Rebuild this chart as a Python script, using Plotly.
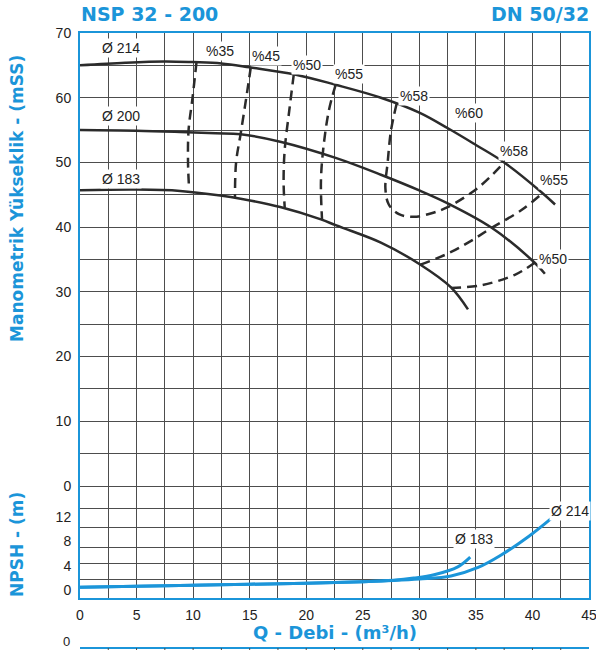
import plotly.graph_objects as go

# ---------------- data ----------------
# Head curves (Q m3/h, H mSS)
q214 = [0, 4, 7.5, 10, 12.5, 15, 19, 22.6, 26.6, 30, 32.6, 35, 37.5, 40.8, 42]
h214 = [65.0, 65.4, 65.6, 65.5, 65.3, 64.7, 63.6, 62.0, 60.0, 57.7, 55.2, 52.7, 50.0, 45.4, 43.5]
q200 = [0, 5, 8.85, 12, 14.2, 17.7, 22.6, 26.6, 30.1, 32.6, 36.4, 40.2, 41.1]
h200 = [55.0, 54.9, 54.7, 54.5, 54.35, 53.2, 50.7, 48.1, 45.6, 43.6, 39.9, 34.5, 32.8]
q183 = [0, 5, 8.85, 12.4, 14.2, 17.7, 21.3, 22.6, 24, 26.6, 30.1, 32.8, 34.3]
h183 = [45.7, 45.8, 45.6, 44.9, 44.4, 43.1, 41.2, 40.3, 39.4, 37.6, 34.2, 30.7, 27.3]

# Iso-efficiency curves
eff35_q = [10.3, 9.95, 9.6, 9.55, 9.65]
eff35_h = [65.5, 60, 55, 50, 45.8]
eff45_q = [15.1, 14.7, 14.2, 13.8, 13.7]
eff45_h = [64.7, 60, 54.4, 50, 44.6]
eff50a_q = [18.9, 18.5, 18.1, 18.0, 18.1]
eff50a_h = [63.6, 58, 52, 47, 43.0]
eff55a_q = [22.6, 22.0, 21.5, 21.3, 21.4]
eff55a_h = [62.0, 58, 52, 47, 41.1]
eff58_q = [28.0, 27.5, 27.2, 27.0, 27.3, 28.2, 29.5, 31, 32.5, 35.2, 37.5]
eff58_h = [59.1, 55, 50, 46, 43.5, 42, 41.6, 42.1, 43.1, 46.1, 50.0]
eff55b_q = [30.1, 32.5, 34.5, 36.4, 39, 40.8]
eff55b_h = [34.2, 35.9, 37.8, 39.9, 42.6, 45.1]
eff50b_q = [32.8, 35.4, 38.4, 40.2]
eff50b_h = [30.6, 31.0, 32.6, 34.5]

# Labels on the head chart
lbl_q = [3.6, 3.6, 3.6, 12.4, 16.4, 20.1, 23.8, 29.5, 34.4, 38.4, 41.9, 41.8]
lbl_h = [67.7, 57.1, 47.4, 67.2, 66.5, 65.1, 63.7, 60.2, 57.7, 51.8, 47.3, 35.1]
lbl_text = ["Ø 214", "Ø 200", "Ø 183", "%35", "%45", "%50", "%55", "%58", "%60", "%58", "%55", "%50"]

# NPSH curves
npsh_q214 = [0, 5, 10, 15, 20, 25, 27.7, 30, 32.8, 35.2, 37.2, 39.6, 41.7]
npsh_h214 = [0.45, 0.6, 0.8, 0.95, 1.1, 1.35, 1.55, 1.8, 2.3, 3.7, 5.7, 8.7, 11.8]
npsh_q183 = [0, 5, 10, 15, 20, 25, 27.7, 29.5, 31.3, 33.4, 34.5]
npsh_h183 = [0.45, 0.6, 0.8, 0.95, 1.1, 1.35, 1.6, 1.95, 2.5, 3.8, 5.4]
npsh_lbl_q = [34.8, 43.3]
npsh_lbl_h = [8.4, 13.0]
npsh_lbl_text = ["Ø 183", "Ø 214"]

x_ticks = [0, 5, 10, 15, 20, 25, 30, 35, 40, 45]
head_ticks = [0, 10, 20, 30, 40, 50, 60, 70]
npsh_ticks = [0, 4, 8, 12]
next_panel_tick = "0"

# ---------------- style ----------------
BLUE = "#1b95d9"
GRID = "#4d4d4d"
CURVE = "#2b2b2b"
TXT = "#222222"
FONT = "Liberation Sans, Arial, sans-serif"
BOLD = "DejaVu Sans, Verdana, sans-serif"
W, H = 596, 650
ML, MR, MT, MB = 80, 7, 33, 0
PW, PH = W - ML - MR, H - MT - MB


def px(xp):
    return (xp - ML) / PW


def py(yp):
    return (H - MB - yp) / PH


fig = go.Figure()

for q, h in [(q214, h214), (q200, h200), (q183, h183)]:
    fig.add_trace(go.Scatter(x=q, y=h, mode="lines", line=dict(color=CURVE, width=2.5, shape="spline"),
                             xaxis="x", yaxis="y", hoverinfo="skip", showlegend=False))

for q, h in [(eff35_q, eff35_h), (eff45_q, eff45_h), (eff50a_q, eff50a_h), (eff55a_q, eff55a_h),
             (eff58_q, eff58_h), (eff55b_q, eff55b_h), (eff50b_q, eff50b_h)]:
    fig.add_trace(go.Scatter(x=q, y=h, mode="lines",
                             line=dict(color=CURVE, width=2.5, dash="10px,6px", shape="spline"),
                             xaxis="x", yaxis="y", hoverinfo="skip", showlegend=False))

for q, h in [(npsh_q214, npsh_h214), (npsh_q183, npsh_h183)]:
    fig.add_trace(go.Scatter(x=q, y=h, mode="lines", line=dict(color=BLUE, width=3, shape="spline"),
                             xaxis="x2", yaxis="y2", hoverinfo="skip", showlegend=False))

annotations = []
for q, h, t in zip(lbl_q, lbl_h, lbl_text):
    annotations.append(dict(x=q, y=h, xref="x", yref="y", text=t, showarrow=False,
                            font=dict(family=FONT, size=14, color=TXT), bgcolor="white", borderpad=1))
for q, h, t in zip(npsh_lbl_q, npsh_lbl_h, npsh_lbl_text):
    annotations.append(dict(x=q, y=h, xref="x2", yref="y2", text=t, showarrow=False,
                            font=dict(family=FONT, size=14, color=TXT), bgcolor="white", borderpad=1))

annotations += [
    dict(x=px(79), y=py(14), xref="paper", yref="paper", text="<b>NSP 32 - 200</b>", showarrow=False,
         xanchor="left", yanchor="middle", font=dict(family=BOLD, size=19, color=BLUE)),
    dict(x=px(591), y=py(14), xref="paper", yref="paper", text="<b>DN 50/32</b>", showarrow=False,
         xanchor="right", yanchor="middle", font=dict(family=BOLD, size=19, color=BLUE)),
    dict(x=px(17), y=py(199), xref="paper", yref="paper", text="<b>Manometrik Yükseklik - (mSS)</b>",
         showarrow=False, textangle=-90, xanchor="center", yanchor="middle",
         font=dict(family=BOLD, size=17, color=BLUE)),
    dict(x=px(17), y=py(545), xref="paper", yref="paper", text="<b>NPSH - (m)</b>",
         showarrow=False, textangle=-90, xanchor="center", yanchor="middle",
         font=dict(family=BOLD, size=17, color=BLUE)),
    dict(x=px(335), y=py(632), xref="paper", yref="paper", text="<b>Q - Debi - (m³/h)</b>",
         showarrow=False, xanchor="center", yanchor="middle",
         font=dict(family=BOLD, size=18, color=BLUE)),
    dict(x=px(72), y=py(641), xref="paper", yref="paper", text=next_panel_tick,
         showarrow=False, xanchor="right", yanchor="middle", font=dict(family=FONT, size=13, color=TXT)),
]

shapes = [
    dict(type="line", xref="paper", yref="paper", x0=0, x1=1, y0=py(648), y1=py(648),
         line=dict(color=BLUE, width=2)),
]
for k in range(1, 18):
    shapes.append(dict(type="line", xref="x2", yref="paper", x0=k * 2.5, x1=k * 2.5,
                       y0=0, y1=py(648), line=dict(color=GRID, width=1)))

tickfont = dict(family=FONT, size=14, color=TXT)

fig.update_layout(
    template="none",
    width=W, height=H,
    margin=dict(l=ML, r=MR, t=MT, b=MB, pad=0, autoexpand=False),
    paper_bgcolor="white", plot_bgcolor="white",
    showlegend=False,
    annotations=annotations,
    shapes=shapes,
    xaxis=dict(domain=[0, 1], range=[0, 45], anchor="y", side="top", showticklabels=False,
               tick0=0, dtick=2.5, showgrid=True, gridcolor=GRID, gridwidth=1, zeroline=False,
               showline=True, linecolor=BLUE, linewidth=2, ticks="", automargin=False),
    yaxis=dict(domain=[py(486), 1], range=[0, 70], anchor="x", tickvals=head_ticks,
               showgrid=True, gridcolor=GRID, gridwidth=1,
               minor=dict(dtick=5, tick0=0, showgrid=True, gridcolor=GRID, gridwidth=1, ticks=""),
               zeroline=True, zerolinecolor=GRID, zerolinewidth=1, automargin=False,
               showline=True, linecolor=BLUE, linewidth=2, mirror=True, ticks="", tickfont=tickfont,
               ticklabelstandoff=4, ticklabeloverflow="allow"),
    xaxis2=dict(domain=[0, 1], range=[0, 45], anchor="y2", tickvals=x_ticks,
                showgrid=True, gridcolor=GRID, gridwidth=1,
                minor=dict(dtick=2.5, tick0=0, showgrid=True, gridcolor=GRID, gridwidth=1, ticks=""),
                zeroline=False, showline=True, linecolor=BLUE, linewidth=2, automargin=False,
                ticks="outside", ticklen=3, tickcolor="rgba(0,0,0,0)", tickfont=tickfont,
                ticklabeloverflow="allow"),
    yaxis2=dict(domain=[py(598), py(486)], range=[-1.31, 17.05], anchor="x2", tickvals=npsh_ticks,
                showgrid=False,
                minor=dict(tickmode="array", tickvals=[1.8, 4.3, 6.9, 10.2, 13.4], showgrid=True,
                           gridcolor=GRID, gridwidth=1, ticks=""),
                zeroline=False, showline=True, linecolor=BLUE, linewidth=2, mirror=True,
                ticks="", tickfont=tickfont, automargin=False,
                ticklabelstandoff=4, ticklabeloverflow="allow"),
)

fig.write_html("out.html", config={"displayModeBar": False},
               post_script="document.body.style.margin='0';document.body.style.overflow='hidden';")
